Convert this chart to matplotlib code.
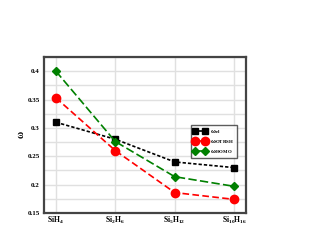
import matplotlib
matplotlib.use("Agg")
import matplotlib.pyplot as plt

plt.rcParams['font.family'] = 'Liberation Serif'
plt.rcParams['font.weight'] = 'bold'
plt.rcParams['mathtext.fontset'] = 'custom'
plt.rcParams['mathtext.rm'] = 'Liberation Serif:bold'
plt.rcParams['mathtext.it'] = 'Liberation Serif:bold'
plt.rcParams['mathtext.bf'] = 'Liberation Serif:bold'
plt.rcParams['mathtext.default'] = 'rm'

# data
molecules = ['SiH$_4$', 'Si$_2$H$_6$', 'Si$_5$H$_{12}$', 'Si$_{10}$H$_{16}$']
omega_el = [0.31, 0.28, 0.24, 0.23]
omega_otrsh = [0.353, 0.26, 0.186, 0.174]
omega_homo = [0.40, 0.276, 0.214, 0.197]
yticks = [0.15, 0.2, 0.25, 0.3, 0.35, 0.4]
ytick_labels = ['0.15', '0.2', '0.25', '0.3', '0.35', '0.4']

x = list(range(len(molecules)))

fig = plt.figure(figsize=(3.17, 2.45), dpi=100)
ax = fig.add_axes([44/317, 1-213/245, (246-44)/317, (213-57)/245])

ax.plot(x, omega_el, color='black', linestyle=(0, (2, 1.2)), linewidth=1.2,
        marker='s', markersize=4.5, label=r'$\omega_{el}$', zorder=3)
ax.plot(x, omega_otrsh, color='red', linestyle=(0, (4, 2)), linewidth=1.2,
        marker='o', markersize=6, label=r'$\omega_{OTRSH}$', zorder=3)
ax.plot(x, omega_homo, color='green', linestyle=(0, (5, 2)), linewidth=1.2,
        marker='D', markersize=4.5, label=r'$\omega_{HOMO}$', zorder=3)

ax.set_xlim(-0.2, 3.2)
ax.set_ylim(0.15, 0.42)
ax.set_xticks(x)
ax.set_xticklabels(molecules, fontsize=5.5)
ax.set_yticks(yticks)
ax.set_yticklabels(ytick_labels, fontsize=5)
ax.set_yticks([0.175, 0.225, 0.275, 0.325, 0.375, 0.425], minor=True)
ax.grid(True, which='both', color='#e0e0e0', linewidth=1)
ax.set_axisbelow(True)
ax.tick_params(axis='x', which='both', length=0, pad=1.5)
ax.tick_params(axis='y', which='both', length=0, pad=3)
for s in ax.spines.values():
    s.set_color('#444444')
    s.set_linewidth(1.6)

ax.set_ylabel(r'$\omega$', fontsize=7, labelpad=1)

leg = ax.legend(loc='upper right', bbox_to_anchor=(0.96, 0.57), fontsize=5,
                numpoints=2, handlelength=2.0, frameon=True, fancybox=False,
                borderpad=0.3, labelspacing=0.15, handletextpad=0.5,
                borderaxespad=0.2)
leg.get_frame().set_edgecolor('#333333')
leg.get_frame().set_linewidth(1)
for line in leg.get_lines():
    line.set_linestyle('-')

fig.savefig('out.png', dpi=100)
